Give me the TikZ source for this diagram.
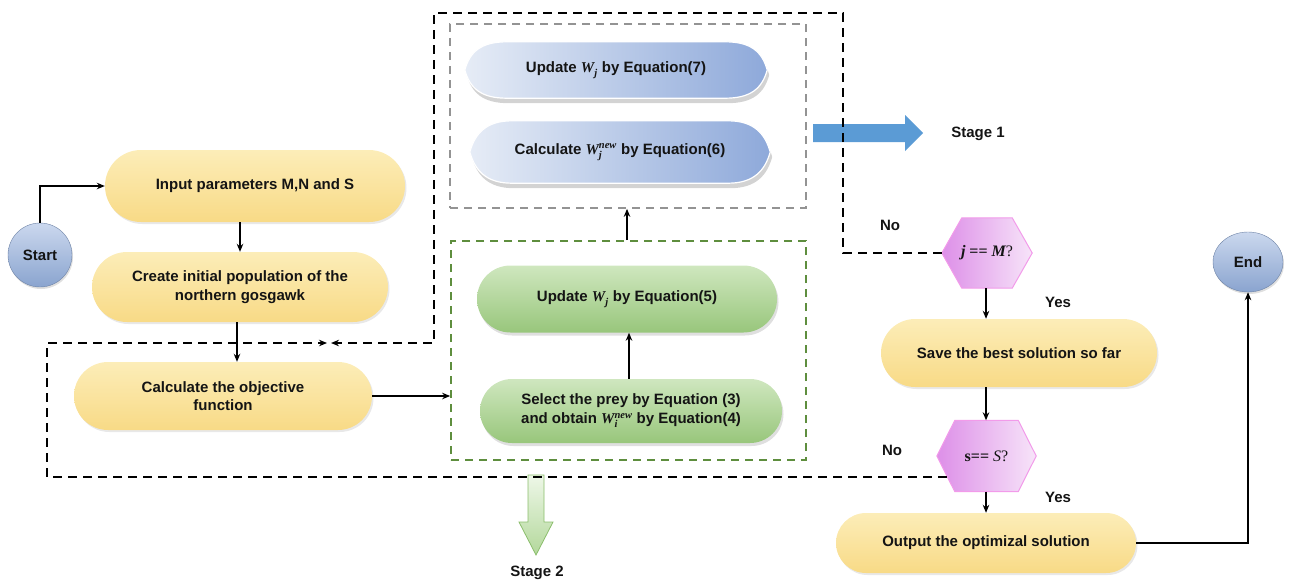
\documentclass[tikz,border=0pt]{standalone}
\usepackage{fontspec}
\setmainfont{Liberation Sans}
\newfontfamily\serifb{Liberation Serif}
\usepackage{amsmath}
\usetikzlibrary{shapes.misc,shapes.geometric,arrows.meta,shadows,calc}
\definecolor{yelL}{HTML}{FCEDB8}
\definecolor{yelD}{HTML}{F8DA86}
\definecolor{grnL}{HTML}{CFE7BF}
\definecolor{grnD}{HTML}{98C67B}
\definecolor{grnBox}{HTML}{5E8E3E}
\definecolor{bluL}{HTML}{E6ECF6}
\definecolor{bluD}{HTML}{8EA9DA}
\definecolor{hexL}{HTML}{DD8FE8}
\definecolor{hexR}{HTML}{F7E4F9}
\definecolor{hexB}{HTML}{F29BEA}
\definecolor{ballT}{HTML}{CBD8EE}
\definecolor{ballB}{HTML}{8AA4CF}
\definecolor{stg1}{HTML}{5B9BD5}
\definecolor{st2L}{HTML}{EEF7E8}
\definecolor{st2D}{HTML}{B3D89B}
\definecolor{st2B}{HTML}{8BBE6C}
\definecolor{txt}{HTML}{141414}
\newcommand{\Wsym}[2]{{\serifb\bfseries\itshape W}$^{\text{\serifb\bfseries\itshape #1}}_{\text{\serifb\bfseries\itshape #2}}$}
\pgfdeclarelayer{background}
\pgfsetlayers{background,main}
\tikzset{
  base/.style={font=\fontsize{15}{18.5}\selectfont\bfseries, align=center, inner sep=0pt, text=txt},
  yel/.style={base, rounded rectangle, top color=yelL, bottom color=yelD,
    drop shadow={opacity=0.18, shadow xshift=1.5pt, shadow yshift=-2pt}},
  grn/.style={base, rounded rectangle, top color=grnL, bottom color=grnD,
    drop shadow={opacity=0.25, shadow xshift=1.5pt, shadow yshift=-3pt}},
  bluetext/.style={base, rectangle},
  bluefill/.style={left color=bluL, right color=bluD, draw=white, line width=1.2pt,
    drop shadow={opacity=0.35, shadow xshift=2pt, shadow yshift=-5pt}},
  hexnode/.style={base, rectangle, font=\fontsize{16}{18}\selectfont\serifb},
  hexfill/.style={left color=hexL, right color=hexR, draw=hexB, line width=1pt},
  ballnode/.style={base, circle, top color=ballT, bottom color=ballB, draw=ballB!80!black, line width=0.4pt, minimum size=64pt,
    drop shadow={opacity=0.25, shadow xshift=1pt, shadow yshift=-2pt}},
  gbox/.style={rectangle, draw=grnBox, line width=1.7pt, dash pattern=on 8pt off 6pt, inner sep=0pt},
  graybox/.style={rectangle, draw=gray!85, line width=1.7pt, dash pattern=on 8pt off 6pt, inner sep=0pt},
  loopline/.style={draw=black, line width=2.1pt, dash pattern=on 9pt off 6pt},
  arr/.style={-{Stealth[length=8pt,width=6.5pt]}, line width=1.6pt, draw=black},
  darr/.style={loopline, -{Stealth[length=8pt,width=6.5pt]}},
  lbl/.style={base, inner sep=1pt}
}
\begin{document}
\begin{tikzpicture}[x=1pt,y=-1pt]
\useasboundingbox (0,0) rectangle (1289,581);

% ---- nodes ----
\node[ballnode] (start) at (40,255) {Start};
\node[ballnode, ellipse, minimum width=70pt, minimum height=60pt] (end) at (1248,262) {End};

\node[yel, minimum width=300pt, minimum height=72pt] (input) at (255,186) {Input parameters M,N and S};
\node[yel, minimum width=296pt, minimum height=70pt] (create) at (240,287) {Create initial population of the\\northern gosgawk};
\node[yel, minimum width=298pt, minimum height=68pt] (calc) at (223,396) {Calculate the objective\\function};

\node[gbox, minimum width=355pt, minimum height=219pt] (green) at (628.5,350.5) {};
\node[grn, minimum width=300pt, minimum height=67pt] (upd5) at (627,299) {Update \Wsym{}{j} by Equation(5)};
\node[grn, minimum width=302pt, minimum height=64pt] (select) at (631,411) {Select the prey by Equation (3)\\and obtain \Wsym{new}{i} by Equation(4)};

\node[graybox, minimum width=356pt, minimum height=184pt] (gray) at (628,116) {};
\node[bluetext, minimum width=302pt, minimum height=56pt] (upd7) at (616,70) {Update \Wsym{}{j} by Equation(7)};
\node[bluetext, minimum width=300pt, minimum height=62pt] (calcnew) at (620,152) {Calculate \Wsym{new}{j} by Equation(6)};

\node[hexnode, minimum width=90pt, minimum height=70pt] (hex1) at (987,253) {\bfseries\itshape j \upshape== \itshape M\mdseries\upshape?};
\node[hexnode, minimum width=99pt, minimum height=71pt] (hex2) at (986.5,456) {\bfseries s== \mdseries\itshape S\upshape?};

\node[yel, minimum width=276pt, minimum height=68pt] (save) at (1019,353) {Save the best solution so far};
\node[yel, minimum width=300pt, minimum height=60pt] (output) at (986,543) {Output the optimizal solution};

\node[lbl] (no1) at (890,225) {No};
\node[lbl] (yes1) at (1058,302) {Yes};
\node[lbl] (no2) at (892,450) {No};
\node[lbl] (yes2) at (1058,497) {Yes};
\node[lbl] (st1) at (978,134) {Stage 1};
\node[lbl] (st2) at (537,573) {Stage 2};

% ---- shapes behind text ----
\begin{pgfonlayer}{background}
  \foreach \n in {upd7,calcnew}{
    \path[bluefill] (\n.west)
      .. controls ($(\n.west)+(5,-18)$) and ($(\n.north west)+(16,0)$) .. ($(\n.north west)+(42,0)$)
      -- ($(\n.north east)+(-42,0)$)
      .. controls ($(\n.north east)+(-16,0)$) and ($(\n.east)+(-5,-18)$) .. (\n.east)
      .. controls ($(\n.east)+(-5,18)$) and ($(\n.south east)+(-16,0)$) .. ($(\n.south east)+(-42,0)$)
      -- ($(\n.south west)+(42,0)$)
      .. controls ($(\n.south west)+(16,0)$) and ($(\n.west)+(5,18)$) .. (\n.west) -- cycle;
  }
  \path[hexfill] (hex1.west) -- ($(hex1.north west)+(20,0)$) -- ($(hex1.north east)+(-20,0)$)
     -- (hex1.east) -- ($(hex1.south east)+(-20,0)$) -- ($(hex1.south west)+(20,0)$) -- cycle;
  \path[hexfill] (hex2.west) -- ($(hex2.north west)+(18,0)$) -- ($(hex2.north east)+(-18,0)$)
     -- (hex2.east) -- ($(hex2.south east)+(-18,0)$) -- ($(hex2.south west)+(18,0)$) -- cycle;
\end{pgfonlayer}

% ---- block arrows ----
\path[fill=stg1] (813,124) -- (905,124) -- (905,115) -- (923,133) -- (905,151) -- (905,142) -- (813,142) -- cycle;
\path[top color=st2L, bottom color=st2D, draw=st2B, line width=0.8pt]
  (528,475) -- (544,475) -- (544,522) -- (553,522) -- (536,555) -- (519,522) -- (528,522) -- cycle;

% ---- solid connectors ----
\draw[arr] (start.north) |- (input.west);
\draw[arr] (input.south -| create.north) -- (create.north);
\draw[arr] (create.south -| 237,0) -- (237,0 |- calc.north);
\draw[arr] (calc.east) -- (calc.east -| green.west);
\draw[arr] (select.north -| 629,0) -- (629,0 |- upd5.south);
\draw[arr] (green.north -| 627,0) -- (627,0 |- gray.south);
\draw[arr] (hex1.south -| 986,0) -- (986,0 |- save.north);
\draw[arr] (save.south -| 986,0) -- (986,0 |- hex2.north);
\draw[arr] (hex2.south -| 986,0) -- (986,0 |- output.north);
\draw[arr] (output.east) -| (end.south);

% ---- dashed loops ----
\coordinate (m1) at (331,343);
\coordinate (m2) at (327,343);
\coordinate (h2out) at ($(hex2.west)+(10,21)$);
\draw[darr] (hex1.west) -- (843,0 |- hex1.west) -- (843,13) -- (434,13) -- (434,343) -- (m1);
\draw[darr] (h2out) -- (47,0 |- h2out) -- (47,343) -- (m2);
\end{tikzpicture}
\end{document}
